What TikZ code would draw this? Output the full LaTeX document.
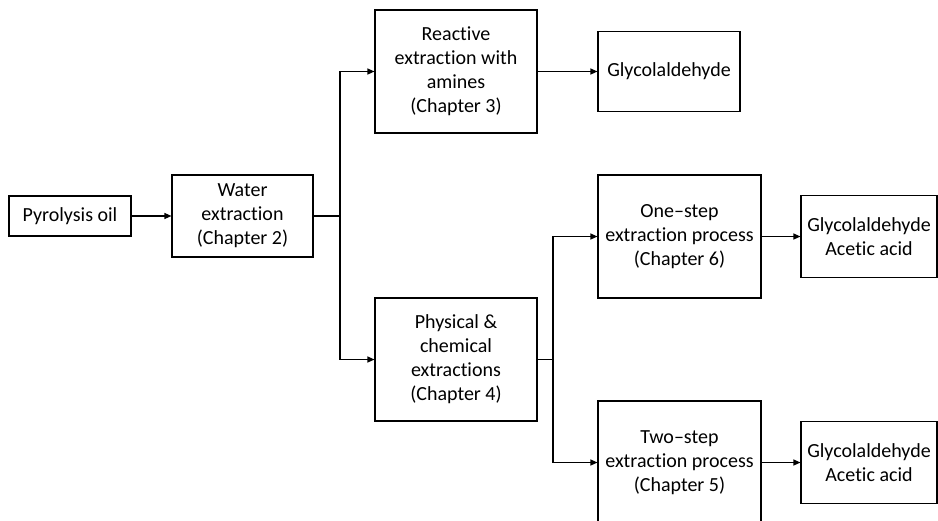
\documentclass[tikz,border=0pt]{standalone}
\usepackage{fontspec}
\setmainfont{Carlito}[Ligatures={TeX,NoCommon}]
\usetikzlibrary{arrows.meta}
\begin{document}
\begin{tikzpicture}[x=1pt,y=-1pt,
  box/.style={draw, line width=1.1pt, align=center, inner sep=0pt, font=\fontsize{20}{24}\selectfont},
  arr/.style={-{Triangle[length=7pt,width=6pt]}, line width=1.1pt},
  ln/.style={line width=1.1pt}]
\useasboundingbox (0,0) rectangle (938,520);
\clip (0,0) rectangle (938,520);
\node[box, minimum width=122, minimum height=40] (py) at (70,216) {Pyrolysis oil};
\node[box, minimum width=141, minimum height=82] (we) at (242.5,216) {Water\\extraction\\(Chapter 2)};
\node[box, minimum width=162, minimum height=123] (re) at (456,71.5) {Reactive\\extraction with\\amines\\(Chapter 3)};
\node[box, minimum width=142, minimum height=80] (gl) at (669,71.5) {Glycolaldehyde};
\node[box, minimum width=162, minimum height=123] (ph) at (456,359.5) {Physical \&\\chemical\\extractions\\(Chapter 4)};
\node[box, minimum width=163, minimum height=123] (one) at (679.5,236.5) {One\textendash step\\extraction process\\(Chapter 6)};
\node[box, minimum width=136, minimum height=82] (ga1) at (869,236.5) {Glycolaldehyde\\Acetic acid};
\node[box, minimum width=163, minimum height=123] (two) at (679.5,462.5) {Two\textendash step\\extraction process\\(Chapter 5)};
\node[box, minimum width=136, minimum height=82] (ga2) at (869,462.5) {Glycolaldehyde\\Acetic acid};
\coordinate (j1) at (340,216);
\coordinate (j2) at (553,359.5);
\draw[arr] (py) -- (we);
\draw[ln] (we.east) -- (j1);
\draw[arr] (j1) |- (re.west);
\draw[arr] (j1) |- (ph.west);
\draw[arr] (re) -- (gl);
\draw[ln] (ph.east) -- (j2);
\draw[arr] (j2) |- (one.west);
\draw[arr] (j2) |- (two.west);
\draw[arr] (one) -- (ga1);
\draw[arr] (two) -- (ga2);
\end{tikzpicture}
\end{document}
